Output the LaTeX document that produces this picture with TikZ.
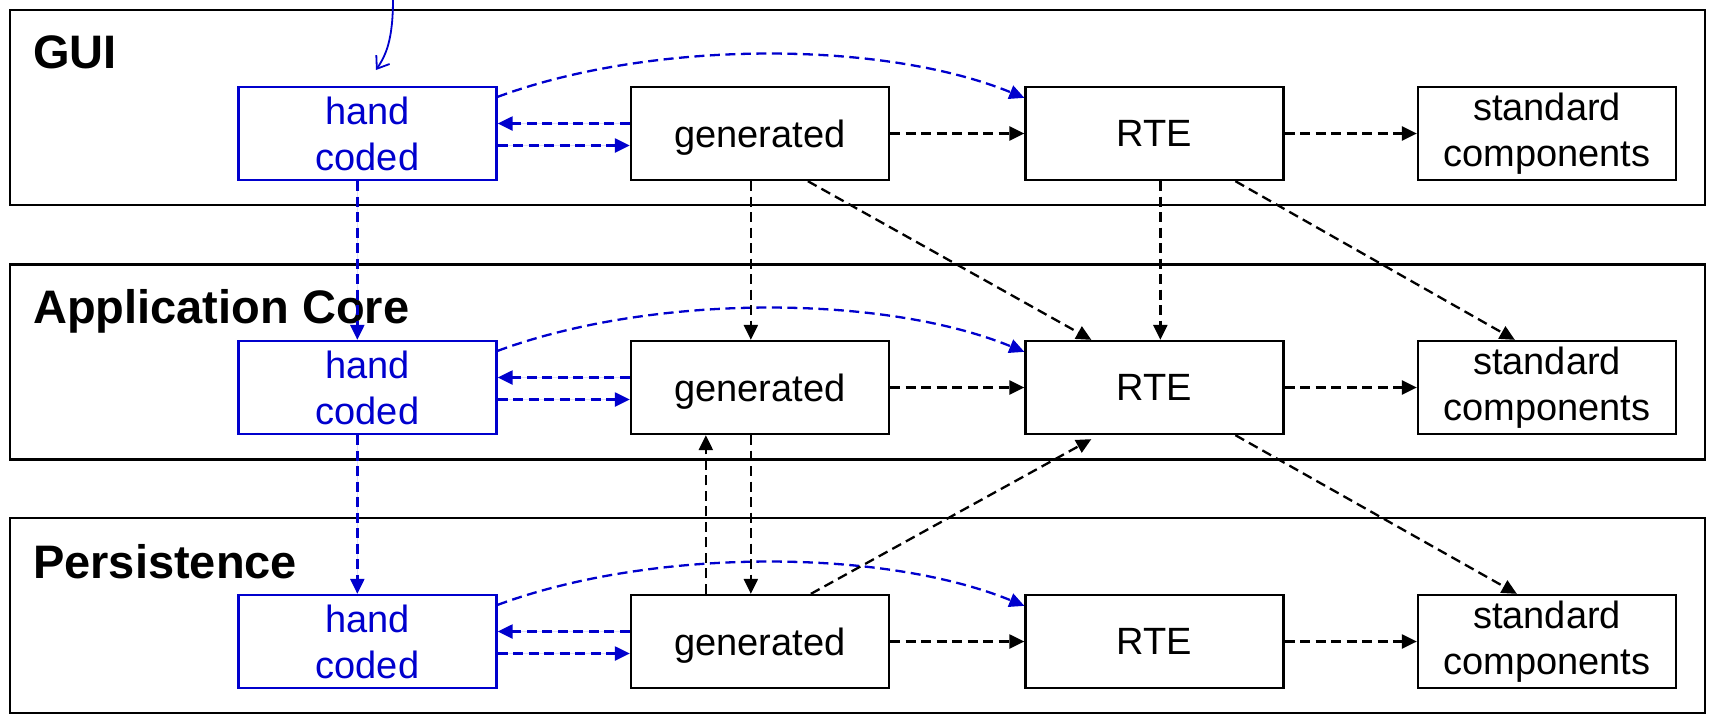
\documentclass[tikz,border=0pt]{standalone}
\usepackage{fontspec}
\setmainfont{Liberation Sans}
\usetikzlibrary{arrows.meta,calc}
\definecolor{codeblue}{RGB}{0,0,205}

\begin{document}
\begin{tikzpicture}[x=1pt,y=-1pt,
  layerbox/.style={draw,line width=2.3pt,minimum width=1695pt,minimum height=195pt,inner sep=0pt},
  layerlabel/.style={anchor=base west,inner sep=0pt,font=\fontsize{47}{56}\selectfont\bfseries},
  comp/.style={draw,line width=2.3pt,minimum width=258pt,minimum height=93pt,inner sep=0pt,
    align=center,font=\fontsize{38}{46}\selectfont},
  handbox/.style={comp,draw=codeblue,text=codeblue},
  dep/.style={line width=2.3pt,dash pattern=on 10pt off 5.5pt,-{Triangle[length=15pt,width=14pt]}},
  bluedep/.style={dep,draw=codeblue,fill=codeblue}
]
\useasboundingbox (0,0) rectangle (1710,721);

% layers
\node[layerbox] (lgui) at (857.5,107.5) {};
\node[layerbox] (lapp) at (857.5,362) {};
\node[layerbox] (lper) at (857.5,615.5) {};
\node[layerlabel] (tgui) at (33,68) {GUI};
\node[layerlabel] (tapp) at (33,323) {Application Core};
\node[layerlabel] (tper) at (33,578) {Persistence};

% components, one row per layer
\foreach \r/\y in {1/133.5,2/387.5,3/641.5}{
  \node[handbox] (hc\r) at (367.5,\y) {hand\\coded};
  \node[comp,text depth=0pt] (gen\r) at (760,\y) {generated};
  \node[comp] (rte\r) at (1154.5,\y) {RTE};
  \node[comp] (std\r) at (1547,\y) {standard\\components};
}

% dependencies inside each layer
\foreach \r in {1,2,3}{
  \draw[bluedep] ($(gen\r.west)+(0,-10)$) -- ($(hc\r.east)+(0,-10)$);
  \draw[bluedep] ($(hc\r.east)+(0,12)$) -- ($(gen\r.west)+(0,12)$);
  \draw[bluedep,fill=none] ($(hc\r.north east)+(0,11)$)
    .. controls ($(hc\r.north east)+(154,-46)$) and ($(rte\r.north west)+(-142,-46)$)
    .. ($(rte\r.north west)+(0,12)$);
  \draw[dep] (gen\r.east) -- (rte\r.west);
  \draw[dep] (rte\r.east) -- (std\r.west);
}

% dependencies between layers
\draw[bluedep] ($(hc1.south west)+(120,0)$) -- ($(hc2.north west)+(120,0)$);
\draw[bluedep] ($(hc2.south west)+(120,0)$) -- ($(hc3.north west)+(120,0)$);
\draw[dep] ($(gen1.south west)+(121,0)$) -- ($(gen2.north west)+(121,0)$);
\draw[dep] ($(gen2.south west)+(121,0)$) -- ($(gen3.north west)+(121,0)$);
\draw[dep] ($(gen3.north west)+(76,0)$) -- ($(gen2.south west)+(76,0)$);
\draw[dep] ($(gen1.south west)+(178,0)$) -- ($(rte2.north west)+(67,0)$);
\draw[dep] ($(gen3.north west)+(181,0)$) -- ($(rte2.south west)+(67,4)$);
\draw[dep] ($(rte1.south west)+(136,0)$) -- ($(rte2.north west)+(136,0)$);
\draw[dep] ($(rte1.south west)+(211,0)$) -- ($(std2.north west)+(98,0)$);
\draw[dep] ($(rte2.south west)+(211,0)$) -- ($(std3.north west)+(100,0)$);

% incoming hint arrow from above
\coordinate (feedtop) at (393,-1);
\coordinate (feedtip) at (376,70);
\draw[codeblue,line width=1.8pt,-{Straight Barb[length=11pt,width=16pt]}]
  (feedtop) .. controls (393,40) and (386,55) .. (feedtip);
\end{tikzpicture}
\end{document}
